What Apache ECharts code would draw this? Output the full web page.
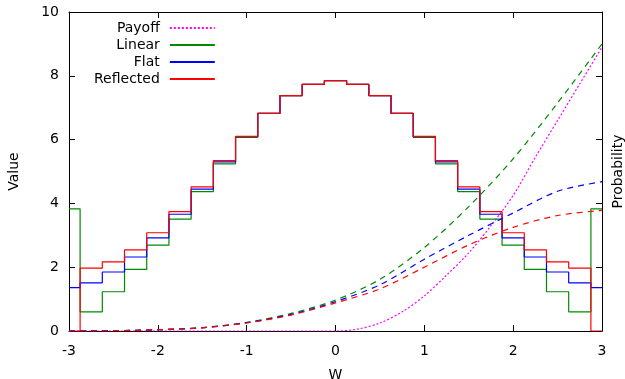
<!DOCTYPE html>
<html>
<head>
<meta charset="utf-8">
<script src="https://cdn.jsdelivr.net/npm/echarts@6/dist/echarts.min.js"></script>
<style>
  html, body { margin: 0; padding: 0; background: #fff; }
  #chart { width: 625px; height: 379px; }
</style>
</head>
<body>
<div id="chart"></div>
<script>
// histogram bin edges (W)
const binEdges = [-3, -2.875, -2.625, -2.375, -2.125, -1.875, -1.625, -1.375, -1.125, -0.875, -0.625, -0.375, -0.125,
  0.125, 0.375, 0.625, 0.875, 1.125, 1.375, 1.625, 1.875, 2.125, 2.375, 2.625, 2.875, 3];
// value in each bin
const linearBins = [3.83, 0.60, 1.23, 1.93, 2.69, 3.51, 4.37, 5.24, 6.07, 6.82, 7.38, 7.73, 7.85,
  7.73, 7.38, 6.82, 6.07, 5.24, 4.37, 3.51, 2.69, 1.93, 1.23, 0.60, 3.83];
const flatBins = [1.36, 1.51, 1.85, 2.32, 2.92, 3.66, 4.45, 5.30, 6.09, 6.82, 7.38, 7.73, 7.85,
  7.73, 7.38, 6.82, 6.09, 5.30, 4.45, 3.66, 2.92, 2.32, 1.85, 1.51, 1.36];
const reflectedBins = [0, 1.97, 2.17, 2.54, 3.08, 3.74, 4.52, 5.34, 6.10, 6.82, 7.38, 7.73, 7.85,
  7.73, 7.38, 6.82, 6.10, 5.34, 4.52, 3.74, 3.08, 2.54, 2.17, 1.97, 0];

// payoff curve
const payoffW = [-3, 0, 0.25, 0.5, 0.75, 1, 1.25, 1.5, 1.75, 2, 2.25, 2.5, 2.75, 3];
const payoffVal = [0, 0, 0.06, 0.25, 0.6, 1.1, 1.75, 2.45, 3.3, 4.25, 5.45, 6.6, 7.75, 8.9];

// dashed curves
const curveW = [-3, -2.5, -2, -1.5, -1, -0.5, 0, 0.5, 1, 1.5, 2, 2.5, 3];
const linearCurve = [0, 0.01, 0.04, 0.11, 0.27, 0.55, 0.97, 1.62, 2.62, 3.9, 5.4, 7.15, 9.0];
const flatCurve = [0, 0.01, 0.04, 0.10, 0.26, 0.52, 0.92, 1.45, 2.25, 3.0, 3.7, 4.38, 4.68];
const reflectedCurve = [0, 0.01, 0.04, 0.10, 0.25, 0.5, 0.88, 1.32, 2.0, 2.7, 3.25, 3.62, 3.78];

const GREEN = '#008a00', BLUE = '#0000ff', RED = '#ff0000', MAGENTA = '#ff00ff';

const steps = (bins) => binEdges.map((x, i) => [x, bins[Math.min(i, bins.length - 1)]]);
const pairs = (xs, ys) => xs.map((x, i) => [x, ys[i]]);

const stepSeries = (name, bins, color) => ({
  name, type: 'line', step: 'end', symbol: 'none',
  data: steps(bins),
  lineStyle: { color, width: 1.2 },
  itemStyle: { color }
});
const dashSeries = (name, ys, color) => ({
  name, type: 'line', symbol: 'none', smooth: 0.3,
  data: pairs(curveW, ys),
  lineStyle: { color, width: 1.2, type: [6, 5] },
  itemStyle: { color }
});

const axisBase = {
  type: 'value',
  axisLine: { show: true, onZero: false, lineStyle: { color: '#000', width: 1 } },
  axisTick: { show: true, inside: true, length: 6, lineStyle: { color: '#000' } },
  splitLine: { show: false }
};

const chart = echarts.init(document.getElementById('chart'));
chart.setOption({
  animation: false,
  textStyle: { fontFamily: 'DejaVu Sans' },
  grid: { left: 69, right: 23, top: 12, bottom: 48, containLabel: false, outerBoundsMode: 'none' },
  legend: {
    orient: 'vertical', left: 89, top: 16, align: 'right',
    itemWidth: 45, itemHeight: 10, itemGap: 3,
    itemStyle: { opacity: 0 },
    textStyle: { fontSize: 14, color: '#000', padding: [0, 5, 0, 0] },
    data: ['Payoff', 'Linear', 'Flat', 'Reflected']
  },
  xAxis: [
    Object.assign({}, axisBase, {
      min: -3, max: 3, interval: 1, position: 'bottom',
      name: 'W', nameLocation: 'middle', nameGap: 37,
      nameTextStyle: { fontSize: 14, color: '#000' },
      axisLabel: { color: '#000', fontSize: 14, margin: 13 }
    }),
    Object.assign({}, axisBase, {
      min: -3, max: 3, interval: 1, position: 'top',
      axisLabel: { show: false }
    })
  ],
  yAxis: [
    Object.assign({}, axisBase, {
      min: 0, max: 10, interval: 2, position: 'left',
      name: 'Value', nameLocation: 'middle', nameGap: 48, nameRotate: 90,
      nameTextStyle: { fontSize: 14, color: '#000' },
      axisLabel: { color: '#000', fontSize: 14, margin: 10 }
    }),
    Object.assign({}, axisBase, {
      min: 0, max: 10, interval: 2, position: 'right',
      name: 'Probability', nameLocation: 'middle', nameGap: 9, nameRotate: 90,
      nameTextStyle: { fontSize: 14, color: '#000' },
      axisLabel: { show: false }
    })
  ],
  series: [
    {
      name: 'Payoff', type: 'line', symbol: 'none', smooth: 0.3,
      data: pairs(payoffW, payoffVal),
      lineStyle: { color: MAGENTA, width: 1.2, type: [2, 2] },
      itemStyle: { color: MAGENTA }
    },
    stepSeries('Linear', linearBins, GREEN),
    stepSeries('Flat', flatBins, BLUE),
    stepSeries('Reflected', reflectedBins, RED),
    dashSeries('Linear prob', linearCurve, GREEN),
    dashSeries('Flat prob', flatCurve, BLUE),
    dashSeries('Reflected prob', reflectedCurve, RED)
  ]
});
</script>
</body>
</html>
